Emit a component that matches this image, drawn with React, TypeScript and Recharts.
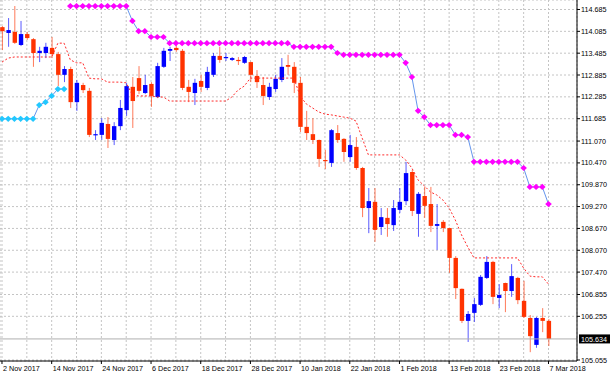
import { Bar, CartesianGrid, ComposedChart, Line, ReferenceLine, XAxis, YAxis } from "recharts";

// daily USDJPY-style candles, one entry per bar (2 Nov 2017 .. 7 Mar 2018)
const OPEN = [
  114.2, 114.04, 114.07, 113.71, 114.01, 113.87, 113.49, 113.49, 113.63, 113.46,
  112.89, 113.05, 112.14, 112.61, 112.45, 111.24, 111.24, 111.54, 111.1, 111.48,
  111.92, 112.56, 112.8, 112.39, 112.64, 112.28, 113.11, 113.55, 113.63, 113.55,
  112.56, 112.39, 112.72, 112.53, 112.89, 113.41, 113.35, 113.3, 113.3, 113.22,
  113.24, 112.86, 112.61, 112.28, 112.5, 112.75, 113.16, 113.11, 112.67, 111.46,
  111.26, 111.1, 110.55, 110.47, 111.29, 111.13, 110.63, 110.91, 110.33, 109.23,
  109.4, 108.71, 108.96, 108.76, 109.18, 109.42, 110.22, 109.07, 109.56, 109.34,
  108.74, 108.85, 108.68, 107.86, 107.01, 106.13, 106.35, 106.57, 107.31, 107.75,
  106.76, 107.17, 106.95, 107.31, 106.68, 106.21, 105.47, 106.21, 106.13,
];
const HIGH = [
  114.23, 114.45, 114.78, 114.37, 114.07, 113.9, 113.66, 113.77, 113.93, 113.52,
  113.13, 113.11, 112.75, 112.67, 112.53, 111.37, 111.7, 111.73, 111.59, 112.2,
  112.67, 112.83, 113.13, 112.89, 112.69, 113.22, 113.63, 113.66, 113.71, 113.6,
  112.75, 112.78, 112.89, 113.11, 113.49, 113.66, 113.49, 113.38, 113.38, 113.41,
  113.25, 113.02, 112.83, 112.67, 112.89, 113.35, 113.44, 113.24, 112.83, 111.9,
  111.7, 111.11, 110.83, 111.4, 111.51, 111.15, 111.24, 111.18, 110.36, 109.78,
  109.78, 109.23, 109.23, 109.45, 109.78, 110.5, 110.28, 109.67, 109.81, 109.81,
  109.34, 108.9, 108.69, 107.91, 107.02, 106.4, 106.76, 107.39, 107.91, 107.78,
  107.14, 107.18, 107.69, 107.34, 107.23, 106.29, 106.24, 106.48, 106.18,
];
const LOW = [
  113.57, 113.66, 113.74, 113.68, 113.85, 113.11, 113.24, 113.35, 113.35, 112.58,
  112.69, 111.98, 111.9, 112.39, 111.18, 111.1, 111.1, 110.88, 110.96, 111.37,
  111.76, 111.43, 112.36, 112.36, 112.01, 112.25, 113.08, 113.27, 113.52, 112.47,
  112.14, 112.06, 112.42, 112.47, 112.83, 113.22, 113.27, 113.27, 113.16, 113.19,
  112.69, 112.53, 112.06, 112.2, 112.42, 112.69, 112.89, 112.39, 111.32, 111.1,
  110.99, 110.36, 110.3, 110.36, 111.02, 110.5, 110.5, 110.28, 108.98, 108.54,
  108.3, 108.49, 108.44, 108.6, 109.09, 109.31, 109.01, 108.44, 108.96, 108.57,
  108.08, 108.57, 107.45, 106.73, 106.07, 105.55, 106.1, 106.54, 107.28, 106.59,
  106.48, 106.37, 106.79, 106.59, 106.21, 105.27, 105.39, 105.82, 105.44,
];
const CLOSE = [
  114.09, 114.12, 113.77, 114.01, 113.9, 113.49, 113.55, 113.66, 113.46, 112.89,
  113.05, 112.14, 112.67, 112.47, 111.24, 111.26, 111.57, 111.13, 111.48, 111.98,
  112.58, 112.17, 112.45, 112.61, 112.31, 113.13, 113.55, 113.6, 113.57, 112.53,
  112.42, 112.67, 112.56, 112.97, 113.41, 113.3, 113.38, 113.35, 113.27, 113.38,
  112.89, 112.69, 112.31, 112.56, 112.78, 113.11, 113.11, 112.67, 111.46, 111.29,
  111.1, 110.58, 110.52, 111.37, 111.1, 110.77, 110.96, 110.33, 109.23, 109.42,
  108.63, 108.98, 108.79, 109.23, 109.4, 110.19, 109.15, 109.62, 109.29, 108.74,
  108.79, 108.68, 107.86, 107.03, 106.13, 106.32, 106.59, 107.34, 107.75, 106.79,
  106.84, 106.95, 107.36, 106.7, 106.24, 105.71, 106.21, 106.13, 105.634,
];

// red dotted trailing line
const TRAIL = [
  113.24, 113.35, 113.38, 113.38, 113.38, 113.38, 113.38, 113.38, 113.38, 113.76,
  113.76, 113.3, 113.22, 113.22, 112.8, 112.78, 112.78, 112.69, 112.69, 112.69,
  112.67, 112.34, 112.31, 112.31, 112.31, 112.28, 112.28, 112.17, 112.17, 112.17,
  112.17, 112.17, 112.17, 112.17, 112.17, 112.17, 112.17, 112.28, 112.47, 112.58,
  112.8, 112.8, 112.8, 112.8, 112.8, 112.8, 112.8, 112.8, 112.31, 112.09,
  111.98, 111.87, 111.81, 111.79, 111.76, 111.73, 111.7, 111.62, 111.15, 110.69,
  110.69, 110.69, 110.69, 110.69, 110.69, 110.55, 110.33, 110.0, 109.84, 109.67,
  109.59, 109.45, 109.23, 108.9, 108.49, 108.16, 107.86, 107.86, 107.86, 107.86,
  107.86, 107.86, 107.86, 107.86, 107.58, 107.36, 107.34, 107.34, 107.14,
];

// stepped stop levels (magenta above price, cyan below)
const UPPER_STOP = [
  null, null, null, null, null, null, null, null, null, null,
  null, 114.78, 114.78, 114.78, 114.78, 114.78, 114.78, 114.78, 114.78, 114.78,
  114.78, 114.37, 114.09, 114.09, 113.93, 113.93, 113.93, 113.76, 113.76, 113.76,
  113.76, 113.76, 113.76, 113.76, 113.76, 113.76, 113.76, 113.76, 113.76, 113.76,
  113.76, 113.76, 113.76, 113.76, 113.76, 113.76, 113.76, 113.66, 113.66, 113.66,
  113.66, 113.66, 113.66, 113.66, 113.49, 113.44, 113.44, 113.44, 113.44, 113.44,
  113.44, 113.44, 113.44, 113.44, 113.44, 113.22, 112.83, 111.9, 111.73, 111.51,
  111.51, 111.51, 111.51, 111.24, 111.24, 111.18, 110.5, 110.5, 110.5, 110.5,
  110.5, 110.5, 110.5, 110.5, 110.33, 109.81, 109.81, 109.81, 109.34,
];
const LOWER_STOP = [
  111.68, 111.68, 111.68, 111.68, 111.68, 111.68, 112.06, 112.14, 112.31, 112.5,
  112.5,
];

const DATE_LABELS = [
  "2 Nov 2017", "14 Nov 2017", "24 Nov 2017", "6 Dec 2017", "18 Dec 2017", "28 Dec 2017",
  "10 Jan 2018", "22 Jan 2018", "1 Feb 2018", "13 Feb 2018", "23 Feb 2018", "7 Mar 2018",
];
const GRID_BARS = [0, 4, 8, 12, 16, 20, 24, 28, 32, 36, 40, 44, 48, 52, 56, 60, 64, 68, 72, 76, 80, 84, 88];
const PRICE_TICKS = [
  114.685, 114.085, 113.485, 112.885, 112.285, 111.685, 111.07, 110.47,
  109.87, 109.27, 108.67, 108.07, 107.47, 106.855, 106.255, 105.055,
];
const LAST_PRICE = 105.634;

const FONT = "'Liberation Sans', Arial, sans-serif";
const BULL = "#0000ff";
const BEAR = "#ff3300";

const data = OPEN.map((o, i) => ({
  i,
  open: o,
  high: HIGH[i],
  low: LOW[i],
  close: CLOSE[i],
  range: [LOW[i], HIGH[i]],
  trail: TRAIL[i],
  upper: UPPER_STOP[i] ?? null,
  lower: LOWER_STOP[i] ?? null,
}));

function Candle(props: any) {
  const { x, y, width, height, payload } = props;
  if (!payload || height == null) return <g />;
  const top = Math.min(y, y + height);
  const h = Math.abs(height);
  const cx = x + width / 2;
  const { open, close, high, low } = payload;
  const py = (v: number) => top + ((high - v) / (high - low)) * h;
  const color = close >= open ? BULL : BEAR;
  const b1 = py(Math.max(open, close));
  const b2 = py(Math.min(open, close));
  return (
    <g>
      <line x1={cx} x2={cx} y1={top} y2={top + h} stroke={color} strokeOpacity={0.65} />
      <rect x={cx - 2.2} y={b1} width={4.4} height={Math.max(b2 - b1, 1.2)} fill={color} />
    </g>
  );
}

const diamond = (fill: string) => (props: any) => {
  const { cx, cy, value, index } = props;
  if (value == null || cy == null || Number.isNaN(cy)) return <g key={index} />;
  return (
    <polygon
      key={index}
      points={`${cx - 3.3},${cy} ${cx},${cy - 3.1} ${cx + 3.3},${cy} ${cx},${cy + 3.1}`}
      fill={fill}
    />
  );
};

function DateTick(props: any) {
  const { x, y, payload } = props;
  const bar = payload.value;
  if (bar % 8 !== 0) return <g />;
  return (
    <g>
      <line x1={x} x2={x} y1={y - 4} y2={y - 1} stroke="#000" />
      <text x={x + 1} y={y + 5.5} fontSize={7.2} fontFamily={FONT} fill="#000">
        {DATE_LABELS[bar / 8]}
      </text>
    </g>
  );
}

function PriceTag(props: any) {
  const vb = props.viewBox;
  if (!vb) return <g />;
  const x = vb.x + vb.width;
  return (
    <g>
      <rect x={x + 2} y={vb.y - 4.5} width={31} height={9} fill="#000" />
      <text x={x + 4} y={vb.y + 2.6} fontSize={7.2} fontFamily={FONT} fill="#fff">
        {LAST_PRICE.toFixed(3)}
      </text>
    </g>
  );
}

export default function App() {
  return (
    <div style={{ position: "absolute", left: 0, top: 0, background: "#fff" }}>
      <ComposedChart width={611} height={374} data={data} margin={{ top: 0, right: 0, bottom: 0, left: 0 }}>
        <CartesianGrid stroke="#c4c4c4" strokeDasharray="2 2" />
        <XAxis
          dataKey="i"
          type="number"
          domain={[-0.322, 92.59]}
          allowDataOverflow
          ticks={GRID_BARS}
          interval={0}
          height={13}
          tickSize={3}
          tickMargin={1}
          tickLine={false}
          axisLine={{ stroke: "#000" }}
          tick={<DateTick />}
        />
        <YAxis
          orientation="right"
          type="number"
          domain={[105.0275, 114.946]}
          allowDataOverflow
          ticks={PRICE_TICKS}
          interval={0}
          width={34}
          tickSize={3}
          tickMargin={1}
          axisLine={{ stroke: "#000" }}
          tickLine={{ stroke: "#000" }}
          tick={{ fontSize: 7.2, fill: "#000", fontFamily: FONT }}
          tickFormatter={(v: number) => v.toFixed(3)}
        />
        <ReferenceLine y={LAST_PRICE} stroke="#b0b0b0" label={<PriceTag />} />
        <Bar dataKey="range" barSize={5} shape={<Candle />} isAnimationActive={false} />
        <Line
          dataKey="trail"
          stroke="#ff2a2a"
          strokeDasharray="2 2"
          strokeWidth={1}
          dot={false}
          activeDot={false}
          isAnimationActive={false}
        />
        <Line
          dataKey="upper"
          stroke="#6495ed"
          strokeWidth={1}
          dot={diamond("#ff00ff")}
          activeDot={false}
          connectNulls={false}
          isAnimationActive={false}
        />
        <Line
          dataKey="lower"
          stroke="#6495ed"
          strokeWidth={1}
          dot={diamond("#22c8ff")}
          activeDot={false}
          connectNulls={false}
          isAnimationActive={false}
        />
      </ComposedChart>
    </div>
  );
}
